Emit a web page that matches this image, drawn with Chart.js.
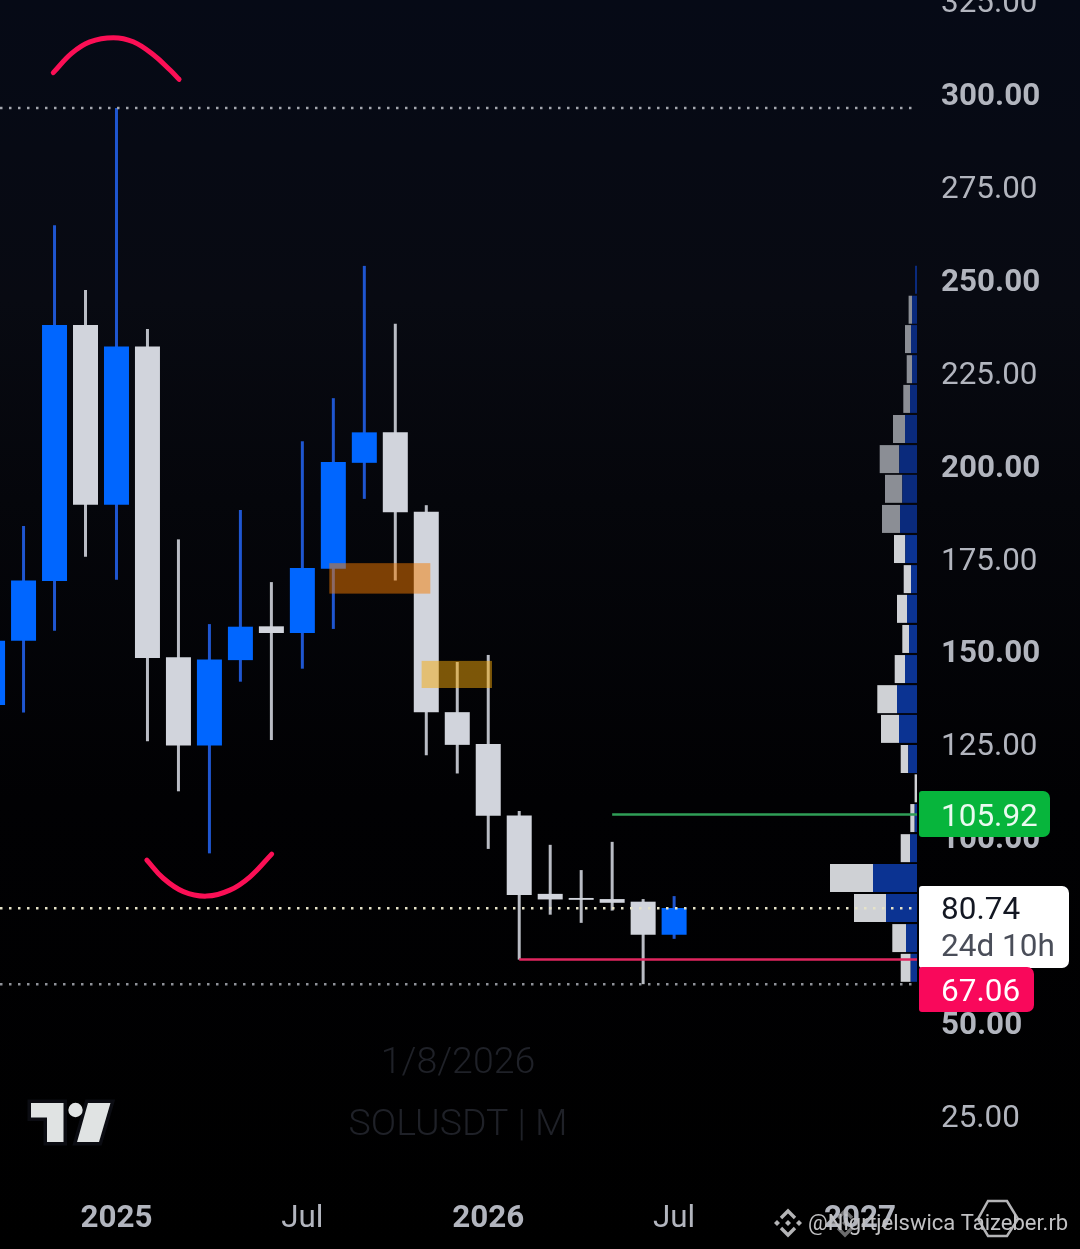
<!DOCTYPE html>
<html>
<head>
<meta charset="utf-8">
<style>
html, body { margin: 0; padding: 0; width: 1080px; height: 1249px; overflow: hidden; }
body { background: linear-gradient(#060a16 0, #080a12 300px, #05060b 500px, #010103 800px, #000 1249px); }
canvas { position: absolute; left: 0; top: 0; }
</style>
<script src="https://cdn.jsdelivr.net/npm/chart.js@4"></script>
</head>
<body>
<canvas id="profile" width="1080" height="1249"></canvas>
<canvas id="candles" width="1080" height="1249"></canvas>
<script>
// month index, 0 = Jan 2025
const months = [-4, -3, -2, -1, 0, 1, 2, 3, 4, 5, 6, 7, 8, 9, 10, 11, 12, 13, 14, 15, 16, 17, 18];
const opens  = [135.6, 152.9, 169.0, 237.9, 189.5, 232.1, 148.5, 124.7, 147.7, 156.8, 155.0, 172.3, 200.8, 209.0, 187.6, 133.7, 125.1, 105.9, 84.8, 83.7, 83.4, 82.7, 73.8];
const closes = [152.9, 169.1, 237.9, 189.5, 232.1, 148.3, 124.7, 147.9, 156.7, 155.0, 172.5, 201.0, 209.0, 187.5, 133.7, 124.9, 105.8, 84.5, 83.3, 83.2, 82.4, 73.8, 81.0];
const highs  = [160.0, 183.8, 264.7, 247.3, 296.3, 236.8, 180.2, 157.4, 188.1, 168.7, 206.6, 218.2, 253.8, 238.2, 189.4, 147.2, 149.1, 107.1, 98.0, 91.2, 98.8, 83.4, 84.2];
const lows   = [125.0, 133.6, 155.6, 175.5, 169.3, 125.9, 112.4, 95.7, 141.9, 126.2, 145.4, 156.1, 191.1, 169.1, 122.1, 117.2, 96.9, 67.1, 79.2, 77.0, 80.3, 60.5, 72.7];

const priceTicks = [25, 50, 100, 125, 150, 175, 200, 225, 250, 275, 300, 325];
const boldPrices = [50, 100, 150, 200, 250, 300];
const timeTicks = [0, 6, 12, 18, 24];
const timeLabels = ['2025', 'Jul', '2026', 'Jul', '2027'];
const boldTimes = [0, 12, 24];

// visible range of the two axes
const xMin = -3.76, xMax = 25.84;
const yMin = 7.8, yMax = 325.35;
// the printed price labels sit about 3px under their level
const labelShift = 0.8;

// volume profile rows
const rowPrices = [250.1, 242, 234.1, 226, 218, 209.9, 201.8, 193.8, 185.7, 177.6, 169.5, 161.5, 153.4, 145.3, 137.2, 129.2, 121.1, 113.2, 105.2, 97.1, 89.1, 81, 72.9, 64.9];
const volUp   = [2, 5, 6, 5, 7, 12, 17.7, 14.7, 17, 11.7, 6, 10, 8, 12, 20, 18, 8.7, 0, 2.3, 7, 44, 31, 11, 6.3];
const volDown = [0, 3.4, 6, 5.3, 6.7, 12, 19.6, 17.3, 18, 11.3, 7.3, 10, 6.7, 10.3, 19.7, 18, 7.6, 2.4, 4.4, 9.3, 43, 32, 13.7, 10];

// levels
const lastPrice = 80.74;
const athPrice = 296.3;
const lowPrice = 60.5;
const resistance = 105.92;
const support = 67.06;

// hand drawn arcs
const arcTopX = [-2.04, -1.45, -0.86, -0.10, 0.54, 1.19, 1.73, 2.02];
const arcTopY = [305.8, 311, 314.1, 315.2, 314.1, 310.6, 306.5, 304];
const arcBottomX = [0.98, 1.51, 2.16, 2.91, 3.66, 4.31, 5.01];
const arcBottomY = [93.9, 89, 85.4, 84.2, 85.8, 89.4, 95.5];

// supply zones: month from, month to, price top, price bottom
const zoneOrange = [6.87, 10.13, 173.8, 165.6];
const zoneYellow = [9.85, 12.12, 147.5, 140.2];

const BLUE = '#0066ff', WHITE = '#d1d4dc', BLUE_WICK = '#1f56d0', WHITE_WICK = '#b9bcc4';
const PINK = '#fb0f55';
const FONT = 'Roboto, sans-serif';

const candleColors = months.map((m, i) => closes[i] >= opens[i] ? BLUE : WHITE);
const wickColors = months.map((m, i) => closes[i] >= opens[i] ? BLUE_WICK : WHITE_WICK);

function levelLine(fromX, toX, price, color, dash, width) {
    return {
        type: 'line',
        data: [{ x: fromX, y: price }, { x: toX, y: price }],
        borderColor: color,
        borderDash: dash,
        borderWidth: width,
        pointRadius: 0
    };
}

function arcLine(xs, ys) {
    return {
        type: 'line',
        data: xs.map((x, i) => ({ x: x, y: ys[i] })),
        borderColor: PINK,
        borderWidth: 5,
        borderCapStyle: 'round',
        tension: 0.4,
        pointRadius: 0
    };
}

function drawZone(chart, zone, color) {
    const { ctx, scales } = chart;
    const left = scales.x.getPixelForValue(zone[0]);
    const right = scales.x.getPixelForValue(zone[1]);
    const top = scales.y.getPixelForValue(zone[2]);
    const bottom = scales.y.getPixelForValue(zone[3]);
    ctx.fillStyle = color;
    ctx.fillRect(left, top, right - left, bottom - top);
}

function drawTag(ctx, x, y, w, h, color) {
    ctx.fillStyle = color;
    ctx.beginPath();
    ctx.roundRect(x, y, w, h, [3, 7, 7, 3]);
    ctx.fill();
}

function drawLogo(ctx) {
    ctx.save();
    const t = new Path2D('M31 1103H63.5V1142H47V1117.5H31Z');
    const slash = new Path2D('M88 1103H110.5L99 1142H77Z');
    ctx.lineWidth = 7;
    ctx.lineJoin = 'miter';
    ctx.strokeStyle = '#0b0c12';
    ctx.stroke(t);
    ctx.stroke(slash);
    ctx.fillStyle = '#e0e3e3';
    ctx.fill(t);
    ctx.fill(slash);
    ctx.beginPath();
    ctx.arc(75.5, 1110, 7.2, 0, Math.PI * 2);
    ctx.fill();
    ctx.restore();
}

function drawWatermark(ctx) {
    ctx.save();
    ctx.strokeStyle = ctx.fillStyle = '#b4b4b6';
    // binance diamonds
    [[788, 1223], [845, 1223]].forEach(function(p, n) {
        ctx.globalAlpha = n ? 0.6 : 1;
        ctx.lineWidth = 3.4;
        ctx.beginPath();
        ctx.moveTo(p[0] - 7, p[1] - 5); ctx.lineTo(p[0], p[1] - 12); ctx.lineTo(p[0] + 7, p[1] - 5);
        ctx.moveTo(p[0] - 7, p[1] + 5); ctx.lineTo(p[0], p[1] + 12); ctx.lineTo(p[0] + 7, p[1] + 5);
        ctx.stroke();
        [[0, 0], [-11, 0], [11, 0]].forEach(function(d) {
            ctx.beginPath();
            ctx.moveTo(p[0] + d[0], p[1] - 3); ctx.lineTo(p[0] + d[0] + 3, p[1]);
            ctx.lineTo(p[0] + d[0], p[1] + 3); ctx.lineTo(p[0] + d[0] - 3, p[1]);
            ctx.fill();
        });
    });
    ctx.globalAlpha = 1;
    // the hexagon badge behind the text
    ctx.lineWidth = 2.5;
    ctx.beginPath();
    ctx.moveTo(988, 1201); ctx.lineTo(1007, 1201); ctx.lineTo(1018, 1219);
    ctx.lineTo(1007, 1236); ctx.lineTo(988, 1236); ctx.lineTo(978, 1219);
    ctx.closePath();
    ctx.stroke();
    ctx.font = '400 22px ' + FONT;
    ctx.textAlign = 'left';
    ctx.textBaseline = 'middle';
    ctx.fillStyle = '#c2c2c4';
    ctx.fillText('@Nigrtjelswica Taizeber.rb', 808, 1224);
    ctx.restore();
}

const overlayPlugin = {
    id: 'overlay',
    afterDatasetsDraw(chart) {
        drawZone(chart, zoneOrange, 'rgba(245, 124, 0, 0.5)');
        drawZone(chart, zoneYellow, 'rgba(245, 170, 10, 0.5)');
    },
    afterDraw(chart) {
        const ctx = chart.ctx;
        ctx.save();
        ctx.textAlign = 'left';
        ctx.textBaseline = 'middle';

        // dim watermark of the chart
        ctx.textAlign = 'center';
        ctx.fillStyle = '#1f2128';
        ctx.font = '300 37.5px ' + FONT;
        ctx.fillText('1/8/2026', 458, 1064);
        ctx.fillText('SOLUSDT | M', 458, 1126);
        ctx.textAlign = 'left';

        drawTag(ctx, 919, 791, 131, 46, '#07b53c');
        ctx.fillStyle = '#eafaf0';
        ctx.font = '400 31.5px ' + FONT;
        ctx.fillText(resistance.toFixed(2), 941, 818);

        drawTag(ctx, 919, 886, 150, 82, '#ffffff');
        ctx.fillStyle = '#131722';
        ctx.fillText(lastPrice.toFixed(2), 941, 911);
        ctx.fillStyle = '#4a4e59';
        ctx.fillText('24d 10h', 941, 948);

        drawTag(ctx, 919, 967, 115, 45, '#f9085b');
        ctx.fillStyle = '#ffffff';
        ctx.fillText(support.toFixed(2), 941, 993);
        ctx.restore();

        drawLogo(ctx);
        drawWatermark(ctx);
    }
};

// tick fonts get asked for outside of a tick too, so check for it
function tickFont(boldValues) {
    return function(ctx) {
        const bold = ctx.tick && boldValues.includes(ctx.tick.value);
        return { family: FONT, size: 31.4, weight: bold ? '700' : '400' };
    };
}

// the profile sits under the candles, on its own canvas because the bars lie on their side
new Chart(document.getElementById('profile'), {
    type: 'bar',
    data: {
        datasets: [
            {
                data: rowPrices.map((p, i) => ({ x: volUp[i], y: p })),
                backgroundColor: rowPrices.map(p => p > 181 ? '#0a2a7c' : '#0b3392')
            },
            {
                data: rowPrices.map((p, i) => ({ x: volDown[i], y: p })),
                backgroundColor: rowPrices.map(p => p > 181 ? '#8b8e95' : '#cfd1d5')
            }
        ]
    },
    options: {
        indexAxis: 'y',
        responsive: false,
        animation: false,
        events: [],
        layout: { padding: { left: 800, right: 163, top: 0, bottom: 69 } },
        plugins: { legend: { display: false }, tooltip: { enabled: false } },
        datasets: { bar: { barThickness: 28, borderWidth: 0, inflateAmount: 0 } },
        scales: {
            x: { display: false, stacked: true, reverse: true, min: 0, max: 117 },
            y: { display: false, stacked: true, type: 'linear', offset: false, min: yMin, max: yMax }
        }
    }
});

new Chart(document.getElementById('candles'), {
    type: 'bar',
    data: {
        datasets: [
            arcLine(arcTopX, arcTopY),
            arcLine(arcBottomX, arcBottomY),
            levelLine(16, xMax, resistance + 0.25, '#2f9e57', [], 2.5),
            levelLine(13, xMax, support + 0.1, '#e0265f', [], 2.5),
            levelLine(xMin, 25.7, athPrice, '#a4a7ae', [2.5, 6.5], 2.5),
            levelLine(xMin, 25.7, lastPrice + 0.2, '#e6e3c8', [2.5, 6.5], 2.5),
            levelLine(xMin, 25.7, lowPrice, '#8f9299', [2.5, 6.5], 2.5),
            {
                data: months.map((m, i) => ({ x: m, y: [opens[i], closes[i]] })),
                backgroundColor: candleColors,
                barThickness: 25
            },
            {
                data: months.map((m, i) => ({ x: m, y: [lows[i], highs[i]] })),
                backgroundColor: wickColors,
                barThickness: 3
            }
        ]
    },
    options: {
        responsive: false,
        animation: false,
        events: [],
        layout: { padding: 0 },
        plugins: { legend: { display: false }, tooltip: { enabled: false } },
        datasets: { bar: { grouped: false, borderWidth: 0, inflateAmount: 0 } },
        scales: {
            x: {
                type: 'linear',
                offset: false,
                min: xMin,
                max: xMax,
                grid: { display: false, offset: false },
                border: { display: false },
                afterBuildTicks(scale) { scale.ticks = timeTicks.map(v => ({ value: v })); },
                afterFit(scale) {
                    scale.height = 69;
                    scale.paddingLeft = 0;
                    scale.paddingRight = 0;
                },
                ticks: {
                    autoSkip: false,
                    maxRotation: 0,
                    padding: 12,
                    color: '#b2b5be',
                    font: tickFont(boldTimes),
                    callback: value => timeLabels[timeTicks.indexOf(value)]
                }
            },
            y: { type: 'linear', display: false, min: yMin, max: yMax },
            priceAxis: {
                type: 'linear',
                axis: 'y',
                position: 'right',
                min: yMin + labelShift,
                max: yMax + labelShift,
                grid: { display: false },
                border: { display: false },
                afterBuildTicks(scale) { scale.ticks = priceTicks.map(v => ({ value: v })); },
                afterFit(scale) {
                    scale.width = 163;
                    scale.paddingTop = 0;
                    scale.paddingBottom = 0;
                },
                ticks: {
                    autoSkip: false,
                    padding: 16,
                    crossAlign: 'near',
                    color: '#b2b5be',
                    font: tickFont(boldPrices),
                    callback: value => value.toFixed(2)
                }
            }
        }
    },
    plugins: [overlayPlugin]
});
</script>
</body>
</html>
